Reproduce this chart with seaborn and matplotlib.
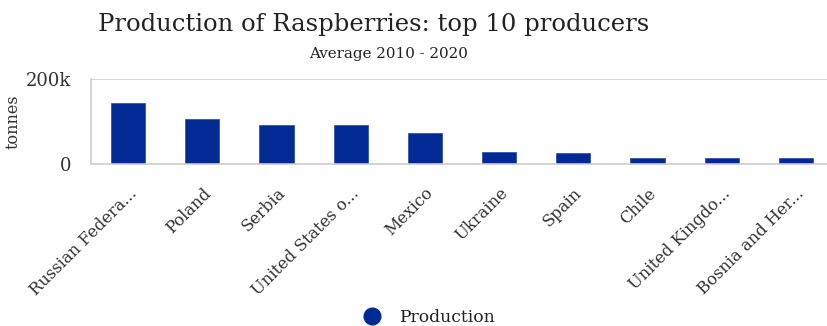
import matplotlib
matplotlib.use('Agg')
import matplotlib.pyplot as plt
import seaborn as sns
import pandas as pd
from matplotlib.lines import Line2D

# Data (tonnes, average 2010-2020)
countries = ['Russian Federa...', 'Poland', 'Serbia', 'United States o...', 'Mexico',
             'Ukraine', 'Spain', 'Chile', 'United Kingdo...', 'Bosnia and Her...']
production = [145000, 105500, 91500, 91500, 72000, 28000, 25000, 14000, 14000, 14000]
y_ticks = [0, 200000]
y_tick_labels = ['0', '200k']

df = pd.DataFrame({'Country': countries, 'Production': production})

sns.set_style('white')
plt.rcParams['font.family'] = ['DejaVu Serif']
bar_color = '#022A94'
grid_color = '#CCCCCC'
text_color = '#333333'

fig = plt.figure(figsize=(8.28, 3.26), dpi=100)
ax = fig.add_axes([0.110, 0.497, 0.896, 0.260])

sns.barplot(data=df, x='Country', y='Production', color=bar_color, width=0.46,
            edgecolor='#3355AA', linewidth=0.6, ax=ax, saturation=1)

ax.set_ylim(0, 200000)
ax.set_xlim(-0.5, len(countries) - 0.5)
ax.set_yticks(y_ticks)
ax.set_yticklabels(y_tick_labels, fontsize=13, color=text_color)
ax.axhline(200000, color=grid_color, lw=1.2, zorder=0)
ax.set_ylabel('tonnes', fontsize=11.5, color=text_color)
ax.yaxis.set_label_coords(-0.094, 0.5)
ax.set_xlabel('')

# x ticks between categories
ax.set_xticks([i - 0.5 for i in range(len(countries) + 1)], minor=True)
ax.tick_params(axis='x', which='minor', length=8, color=grid_color, width=1.2)
ax.tick_params(axis='x', which='major', length=0, pad=15)
ax.tick_params(axis='y', length=0, pad=14)
ax.set_xticks(range(len(countries)))
ax.set_xticklabels(countries, rotation=45, ha='right', rotation_mode='anchor',
                   fontsize=11.8, color=text_color)

for side in ['top', 'right']:
    ax.spines[side].set_visible(False)
for side in ['left', 'bottom']:
    ax.spines[side].set_color(grid_color)
    ax.spines[side].set_linewidth(1.2)

fig.text(0.451, 0.926, 'Production of Raspberries: top 10 producers', ha='center',
         va='center', fontsize=17.5, color='#222222')
fig.text(0.469, 0.834, 'Average 2010 - 2020', ha='center', va='center',
         fontsize=10.9, color='#222222')

handle = Line2D([], [], marker='o', ls='', color=bar_color, markersize=12)
fig.legend([handle], ['Production'], loc='center', bbox_to_anchor=(0.513, 0.025),
           frameon=False, fontsize=12.3, handletextpad=0.6, labelcolor='#222222')

fig.savefig('out.png', dpi=100)
